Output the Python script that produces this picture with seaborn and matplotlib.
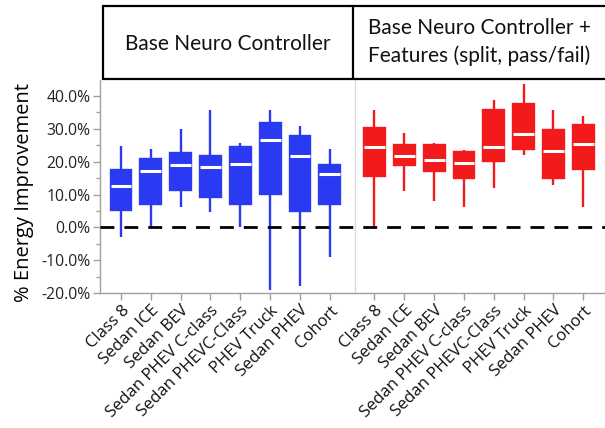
import numpy as np
import pandas as pd
import matplotlib
matplotlib.use("Agg")
import matplotlib.pyplot as plt
from matplotlib.lines import Line2D
from matplotlib.ticker import MultipleLocator, FuncFormatter
import seaborn as sns

# ---------------- data (percent) ----------------
categories = ["Class 8", "Sedan ICE", "Sedan BEV", "Sedan PHEV C-class",
              "Sedan PHEVC-Class", "PHEV Truck", "Sedan PHEV", "Cohort"]

base_low  = [-2.9, 0.0, 6.1, 4.8, 0.0, -19.0, -18.0, -9.0]
base_q1   = [5.2, 7.1, 11.3, 9.4, 7.1, 10.3, 4.9, 7.1]
base_med  = [12.6, 17.1, 19.1, 18.5, 19.4, 26.7, 21.8, 16.3]
base_q3   = [17.6, 20.8, 22.7, 21.7, 24.4, 31.8, 27.9, 18.9]
base_high = [24.8, 23.8, 29.9, 35.7, 25.8, 35.7, 30.9, 23.8]

feat_low  = [0.0, 11.1, 8.1, 6.1, 11.9, 22.0, 12.9, 6.1]
feat_q1   = [15.8, 19.1, 17.1, 14.9, 20.1, 23.9, 14.9, 17.7]
feat_med  = [24.6, 21.8, 20.4, 19.5, 24.6, 28.3, 23.3, 25.5]
feat_q3   = [30.3, 25.1, 25.1, 23.1, 35.7, 37.6, 29.6, 31.2]
feat_high = [35.7, 28.8, 25.7, 23.6, 38.9, 43.8, 35.7, 33.8]

group_title_left = "Base Neuro Controller"
group_title_right = ["Base Neuro Controller +", "Features (split, pass/fail)"]
ytick_values = [-20, -10, 0, 10, 20, 30, 40]

BLUE = "#2a3af2"
RED = "#f21a1a"


def build(lows, q1s, meds, q3s, highs, offset):
    rows = []
    for i, cat in enumerate(categories):
        for v in (lows[i], q1s[i], meds[i], q3s[i], highs[i]):
            rows.append({"pos": i + offset, "cat": cat, "value": v})
    return pd.DataFrame(rows)


df_base = build(base_low, base_q1, base_med, base_q3, base_high, 0.0)
df_feat = build(feat_low, feat_q1, feat_med, feat_q3, feat_high, 8.5)

sns.set_theme(style="white")
plt.rcParams["font.family"] = ["Open Sans", "DejaVu Sans"]

fig = plt.figure(figsize=(6.05, 4.28), dpi=100)
W, H = 605, 428
ax = fig.add_axes([100 / W, (H - 293) / H, (W - 100) / W, (293 - 80) / H])

for d, col in ((df_base, BLUE), (df_feat, RED)):
    sns.boxplot(data=d, x="pos", y="value", native_scale=True, ax=ax,
                color=col, linecolor=col, saturation=1, width=0.7,
                whis=(0, 100), showcaps=False, showfliers=False,
                linewidth=1.7,
                medianprops={"color": "white", "linewidth": 2.2},
                zorder=2)

ax.axhline(0, color="black", lw=2.0, linestyle=(0, (5, 3.6)), zorder=5)
ax.axvline(7.85, color="#dcdcdc", lw=1.0, zorder=1)

ax.set_xlim(-0.705, 16.23)
ax.set_ylim(-20, 44.9)

positions = list(range(8)) + [p + 8.5 for p in range(8)]
ax.set_xticks(positions)
ax.set_xticklabels(categories + categories, rotation=45, ha="right",
                   rotation_mode="anchor", fontsize=12, color="#111111")
ax.set_yticks(ytick_values)
ax.yaxis.set_minor_locator(MultipleLocator(5))
ax.yaxis.set_major_formatter(FuncFormatter(lambda v, p: f"{v:.1f}%"))
for lab in ax.get_yticklabels():
    lab.set_fontsize(11.3)
    lab.set_color("#222222")

ax.tick_params(axis="x", which="major", direction="out", length=5, width=1,
               color="#a0a0a0", pad=2, bottom=True)
ax.tick_params(axis="y", which="major", direction="out", length=5, width=1,
               color="#a0a0a0", pad=2, left=True)
ax.tick_params(axis="y", which="minor", direction="out", length=3, width=1,
               color="#a0a0a0", left=True)

for s in ("top", "right"):
    ax.spines[s].set_visible(False)
for s in ("left", "bottom"):
    ax.spines[s].set_color("#a0a0a0")
    ax.spines[s].set_linewidth(1.0)

ax.set_xlabel("")
ax.set_ylabel("")
fig.text(24 / W, (H - 192) / H, "% Energy Improvement", rotation=90,
         ha="center", va="center", fontsize=14.5, color="black")

# ---------------- header table ----------------
def px(x, y):
    return x / W, (H - y) / H

lw = 1.6
x0, x1, xm = 102.7, 606, 353.3
y0, y1 = 5.7, 79.3
for (xa, ya), (xb, yb) in [((x0, y0), (x1, y0)), ((x0, y1), (x1, y1)),
                           ((x0, y0), (x0, y1)), ((xm, y0), (xm, y1))]:
    fa, fb = px(xa, ya), px(xb, yb)
    fig.add_artist(Line2D([fa[0], fb[0]], [fa[1], fb[1]], color="black",
                          lw=lw, transform=fig.transFigure))

hdr_font = ["Lato", "DejaVu Sans"]
tx, ty = px((x0 + xm) / 2, 44)
fig.text(tx, ty, group_title_left, ha="center", va="center", fontsize=15,
         color="#111111", family=hdr_font)
for line, yc in zip(group_title_right, (28.5, 55.5)):
    tx, ty = px((xm + 605) / 2, yc)
    fig.text(tx, ty, line, ha="center", va="center", fontsize=15,
             color="#111111", family=hdr_font)

fig.savefig("out.png", dpi=100)
